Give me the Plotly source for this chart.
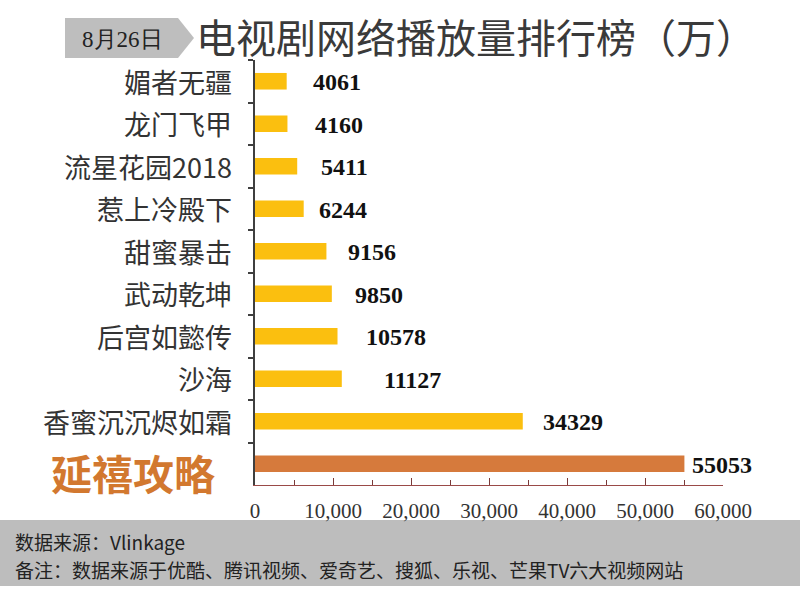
import plotly.graph_objects as go

# data, top to bottom as in the picture
shows = ["媚者无疆", "龙门飞甲", "流星花园2018", "惹上冷殿下", "甜蜜暴击",
         "武动乾坤", "后宫如懿传", "沙海", "香蜜沉沉烬如霜", "延禧攻略"]
views = [4061, 4160, 5411, 6244, 9156, 9850, 10578, 11127, 34329, 55053]
x_ticks = [0, 10000, 20000, 30000, 40000, 50000, 60000]
x_ticktext = ["0", "10,000", "20,000", "30,000", "40,000", "50,000", "60,000"]
highlight = "延禧攻略"
date_label = "8月26日"
title_text = "电视剧网络播放量排行榜（万）"
source_lines = ["数据来源：Vlinkage",
                "备注：数据来源于优酷、腾讯视频、爱奇艺、搜狐、乐视、芒果TV六大视频网站"]

# gaps (px) between bar end and value label, as laid out in the original
label_gap = [26, 28, 24, 15, 22, 23, 28, 42, 20, 8]

YELLOW = "#FBBF0F"
ORANGE = "#D67A3C"
W, H = 800, 594
L, R, T, B = 255, 77, 60, 109


def px_x(x):
    return (x - L) / (W - L - R)


def px_y(y):
    return (H - B - y) / (H - T - B)


colors = [ORANGE if s == highlight else YELLOW for s in shows]

fig = go.Figure(go.Bar(
    x=views, y=shows, orientation="h",
    marker=dict(color=colors, line=dict(width=0)),
    hoverinfo="x+y",
))

annotations = []
for s, v, g in zip(shows, views, label_gap):
    annotations.append(dict(
        x=v, y=s, xref="x", yref="y", text=str(v), showarrow=False,
        xanchor="left", xshift=g - 2, yshift=-1,
        font=dict(family="Liberation Serif", size=24, color="#111111", weight="bold"),
    ))
    if s == highlight:
        annotations.append(dict(
            x=px_x(217), y=s, xref="paper", yref="y", text=f"<b>{s}</b>",
            showarrow=False, xanchor="right", yshift=-8,
            font=dict(family="Noto Sans CJK SC", size=41, color="#D2782F"),
        ))
    else:
        annotations.append(dict(
            x=px_x(234), y=s, xref="paper", yref="y", text=s,
            showarrow=False, xanchor="right",
            font=dict(family="Noto Sans CJK SC", size=27, color="#333333"),
        ))

# date tag and title
annotations.append(dict(
    x=px_x(122), y=px_y(39), xref="paper", yref="paper", text=date_label,
    showarrow=False, xanchor="center", yanchor="middle",
    font=dict(family="Liberation Serif", size=23, color="#222222"),
))
annotations.append(dict(
    x=px_x(194), y=px_y(36), xref="paper", yref="paper", text=title_text,
    showarrow=False, xanchor="left", yanchor="middle",
    font=dict(family="Noto Sans CJK SC", size=40, color="#3A3A3A"),
))
# source box text
for i, line in enumerate(source_lines):
    annotations.append(dict(
        x=px_x(13), y=px_y(541 + i * 28), xref="paper", yref="paper", text=line,
        showarrow=False, xanchor="left", yanchor="middle",
        font=dict(family="Noto Sans CJK SC", size=19, color="#222222"),
    ))

tag = (f"M {px_x(65)},{px_y(18)} L {px_x(178)},{px_y(18)} L {px_x(194)},{px_y(38)} "
       f"L {px_x(178)},{px_y(58)} L {px_x(65)},{px_y(58)} Z")
shapes = [
    dict(type="path", path=tag, xref="paper", yref="paper",
         fillcolor="#BEBEBE", line=dict(width=0), layer="below"),
    dict(type="rect", xref="paper", yref="paper", x0=px_x(0), x1=px_x(800),
         y0=px_y(520), y1=px_y(586), fillcolor="#BDBDBD", line=dict(width=0),
         layer="below"),
]

fig.update_layout(
    width=W, height=H,
    margin=dict(l=L, r=R, t=T, b=B),
    paper_bgcolor="white", plot_bgcolor="white",
    bargap=0.61, showlegend=False,
    annotations=annotations, shapes=shapes,
    xaxis=dict(
        range=[0, 60000], tickvals=x_ticks, ticktext=x_ticktext,
        showgrid=False, zeroline=False,
        showline=True, linecolor="#9A4A48", linewidth=1,
        ticks="inside", ticklen=7, tickcolor="#7A3A38", tickwidth=1,
        minor=dict(dtick=5000, ticks="inside", ticklen=5, tickcolor="#7A3A38"),
        ticklabelstandoff=7,
        tickfont=dict(family="Liberation Serif", size=21, color="#333333"),
    ),
    yaxis=dict(
        range=[len(shows) - 0.5, -0.5], showticklabels=False,
        showgrid=False, zeroline=False,
        showline=True, linecolor="#3F3F3F", linewidth=2,
        ticks="outside", tickson="boundaries", ticklen=5,
        tickcolor="#3F3F3F", tickwidth=2,
    ),
)

fig.write_html("out.html", config={"displayModeBar": False},
               post_script="document.body.style.margin='0';")
